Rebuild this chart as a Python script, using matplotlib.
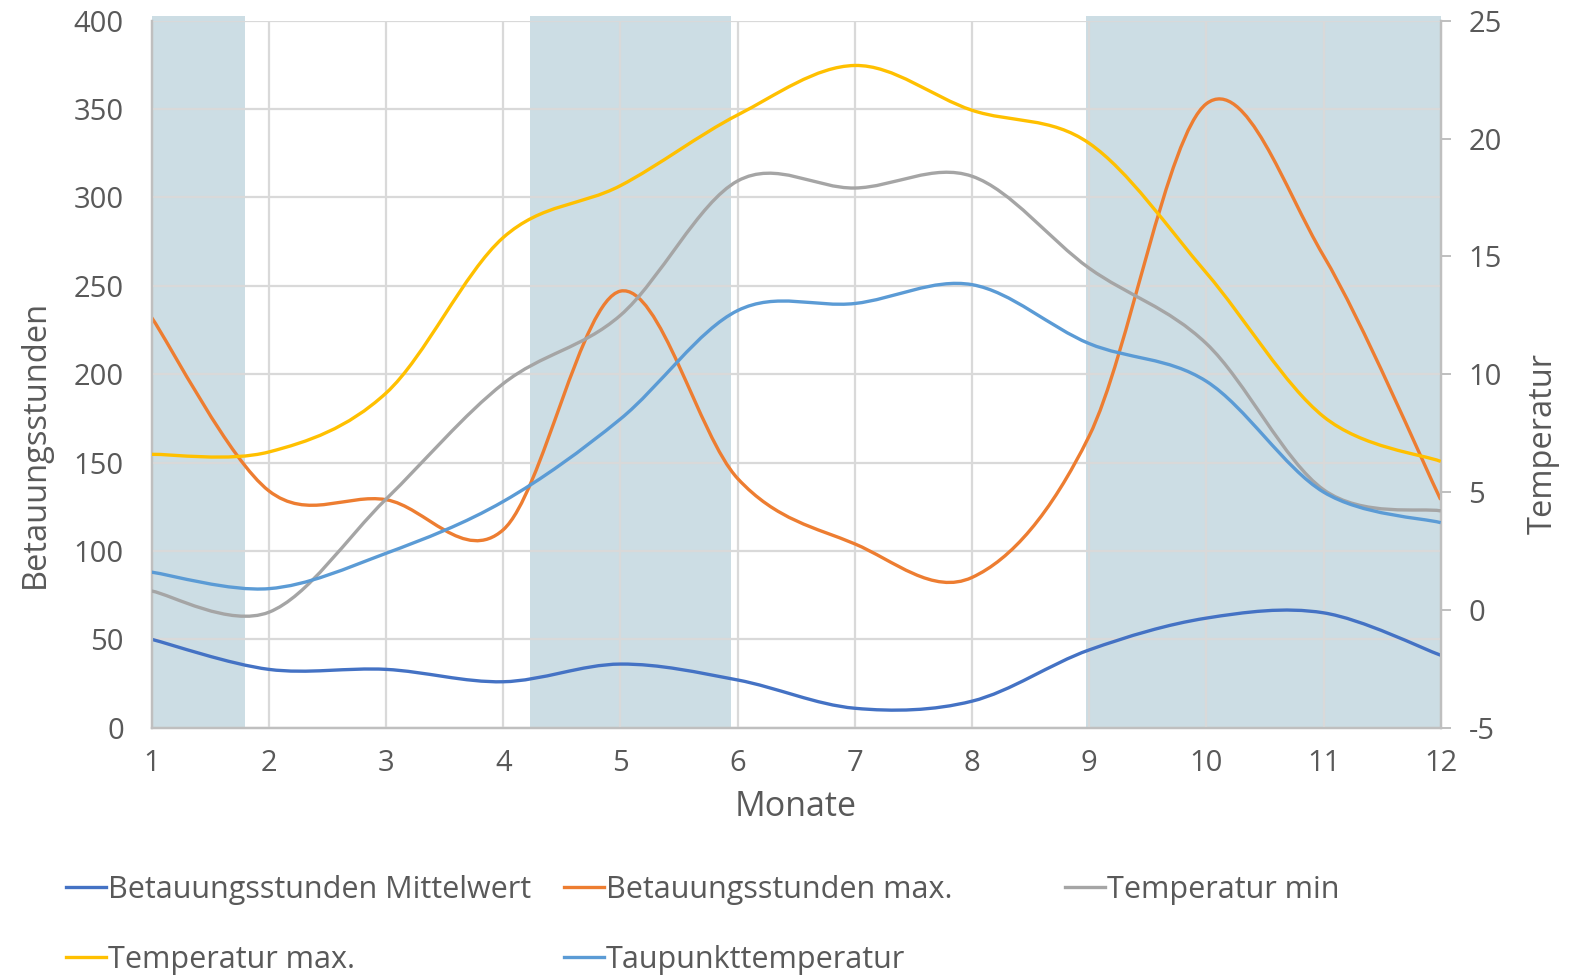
#!/usr/bin/env python3
"""Betauungsstunden und Temperaturen im Jahresverlauf (geglättete Linien, Doppelachse)."""
import matplotlib
matplotlib.use("Agg")
import matplotlib.pyplot as plt
from matplotlib.path import Path
from matplotlib.patches import PathPatch
from matplotlib.lines import Line2D

plt.rcParams["font.family"] = ["Open Sans", "DejaVu Sans"]
plt.rcParams["axes.unicode_minus"] = False

# ── Daten ────────────────────────────────────────────────────────────────────
months = [1, 2, 3, 4, 5, 6, 7, 8, 9, 10, 11, 12]

betau_mittel = [50, 33, 33, 26, 36, 27, 11, 15, 44, 62, 65, 41]
betau_max = [232, 134, 129, 112, 247, 141, 104, 85, 165, 353, 267, 129]

temp_min = [0.8, -0.1, 4.7, 9.6, 12.5, 18.2, 17.9, 18.4, 14.5, 11.3, 5.1, 4.2]
temp_max = [6.6, 6.7, 9.2, 15.8, 18.0, 21.0, 23.1, 21.2, 19.8, 14.3, 8.2, 6.3]
taupunkt = [1.6, 0.9, 2.4, 4.6, 8.1, 12.7, 13.0, 13.8, 11.3, 9.7, 5.0, 3.7]

# schattierte Zeiträume (Monat von, Monat bis)
shaded_periods = [(1.0, 1.8), (4.23, 5.94), (8.97, 12.0)]

TXT = "#595959"
GRID = "#D9D9D9"
AXC = "#BFBFBF"
BAND = "#CCDDE4"


def smooth_path(xs, ys):
    """Excel-artige Glättung: kubische Bezier-Segmente (Catmull-Rom)."""
    n = len(xs)
    verts = [(xs[0], ys[0])]
    codes = [Path.MOVETO]
    for i in range(n - 1):
        i0 = max(i - 1, 0)
        i3 = min(i + 2, n - 1)
        c1 = (xs[i] + (xs[i + 1] - xs[i0]) / 6, ys[i] + (ys[i + 1] - ys[i0]) / 6)
        c2 = (xs[i + 1] - (xs[i3] - xs[i]) / 6, ys[i + 1] - (ys[i3] - ys[i]) / 6)
        verts += [c1, c2, (xs[i + 1], ys[i + 1])]
        codes += [Path.CURVE4] * 3
    return Path(verts, codes)


def add_smooth(ax, ys, color, label):
    patch = PathPatch(smooth_path(months, ys), facecolor="none", edgecolor=color,
                      lw=2.4, capstyle="butt", joinstyle="round", zorder=3)
    ax.add_patch(patch)
    return Line2D([], [], color=color, lw=2.4, label=label)


fig = plt.figure(figsize=(15.8, 9.8), dpi=100)
ax = fig.add_axes([151.7 / 1580, 1 - 727.7 / 980, 1289 / 1580, 707 / 980])
ax2 = ax.twinx()

for a, b in shaded_periods:
    ax.axvspan(a, b, ymin=0, ymax=1.006, color=BAND, lw=0, zorder=0, clip_on=False)

ax.set_xlim(1, 12)
ax.set_ylim(0, 400)
ax2.set_ylim(-5, 25)
ax.set_xticks(months)
ax.set_yticks(range(0, 401, 50))
ax2.set_yticks(range(-5, 26, 5))

ax.grid(True, color=GRID, lw=1.6, zorder=1)
ax.set_axisbelow(False)
for l in ax.get_xgridlines() + ax.get_ygridlines():
    l.set_zorder(1)

h1 = add_smooth(ax, betau_mittel, "#4472C4", "Betauungsstunden Mittelwert")
h2 = add_smooth(ax, betau_max, "#ED7D31", "Betauungsstunden max.")
h3 = add_smooth(ax2, temp_min, "#A5A5A5", "Temperatur min")
h4 = add_smooth(ax2, temp_max, "#FFC000", "Temperatur max.")
h5 = add_smooth(ax2, taupunkt, "#5B9BD5", "Taupunkttemperatur")

for a in (ax, ax2):
    a.spines["top"].set_visible(False)
    for s in ("left", "right", "bottom"):
        a.spines[s].set_color(AXC)
        a.spines[s].set_linewidth(1.6)

ax.tick_params(axis="y", length=0, pad=20, labelsize=21, labelcolor=TXT)
ax.tick_params(axis="x", length=0, pad=15, labelsize=21, labelcolor=TXT)
ax2.tick_params(axis="y", length=7, width=1.4, color=AXC, pad=13, labelsize=21,
                labelcolor=TXT)

fig.text(35 / 1580, 0.547, "Betauungsstunden", rotation=90, ha="center",
         va="center", fontsize=23.5, color=TXT)
fig.text(1543 / 1580, 0.547, "Temperatur", rotation=90, ha="center",
         va="center", fontsize=23.5, color=TXT)
fig.text(796 / 1580, 1 - 807 / 980, "Monate", ha="center", va="center",
         fontsize=24.5, color=TXT)

# Legende: zwei Zeilen, drei Spalten, Einträge einzeln platziert
row1 = 1 - 890 / 980
row2 = 1 - 960 / 980
entries = [(66 / 1580, row1, h1), (564 / 1580, row1, h2), (1065 / 1580, row1, h3),
           (66 / 1580, row2, h4), (564 / 1580, row2, h5)]
for x, y, h in entries:
    fig.legend(handles=[h], loc="center left", bbox_to_anchor=(x, y),
               frameon=False, fontsize=22, handlelength=1.3,
               handletextpad=0.07, borderpad=0, borderaxespad=0, labelcolor=TXT)

fig.savefig("out.png", dpi=100)
